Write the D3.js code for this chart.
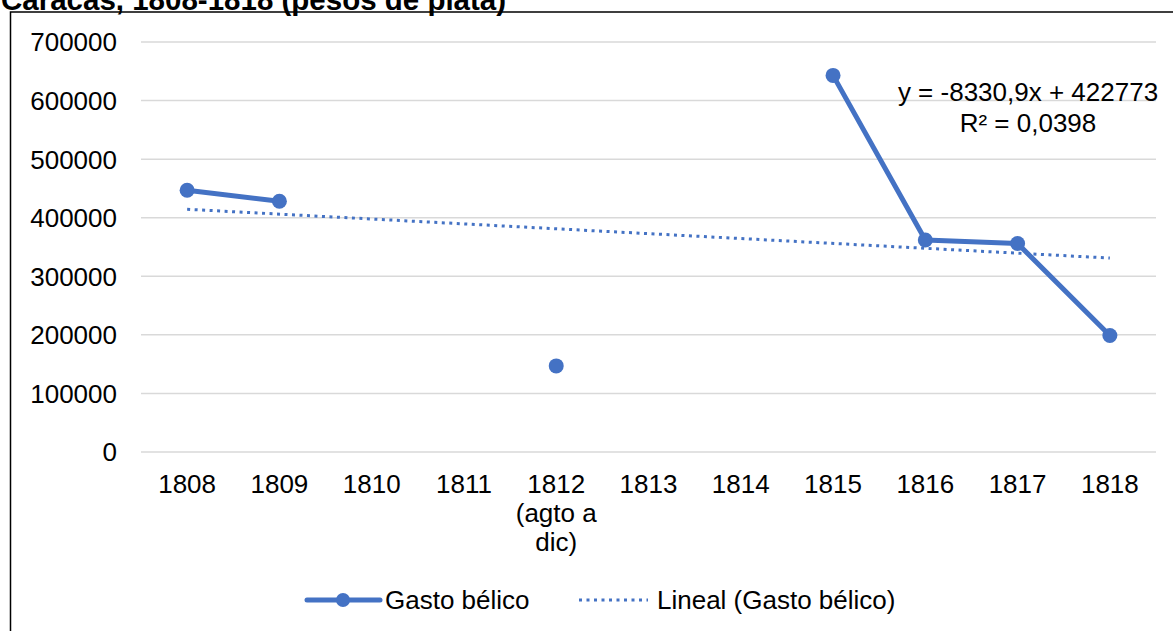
<!DOCTYPE html>
<html>
<head>
<meta charset="utf-8">
<script src="https://cdn.jsdelivr.net/npm/d3@7"></script>
<style>
  body { margin: 0; background: #fff; }
  svg { display: block; font-family: "Liberation Sans", Arial, sans-serif; }
</style>
</head>
<body>
<script>
// data
var years = ["1808", "1809", "1810", "1811", "1812 (agto a dic)", "1813", "1814", "1815", "1816", "1817", "1818"];
var yearLines = [["1808"], ["1809"], ["1810"], ["1811"], ["1812", "(agto a", "dic)"], ["1813"], ["1814"], ["1815"], ["1816"], ["1817"], ["1818"]];
var gasto = [447000, 428000, null, null, 147000, null, null, 643000, 362000, 356000, 199000];
var yTicks = [0, 100000, 200000, 300000, 400000, 500000, 600000, 700000];
var trendSlope = -8330.9, trendIntercept = 422773;
var eqLines = ["y = -8330,9x + 422773", "R\u00b2 = 0,0398"];

var W = 1173, H = 631;
var blue = "#4472C4";

var svg = d3.select("body").append("svg")
    .attr("width", W)
    .attr("height", H);

// chart border
svg.append("rect")
    .attr("x", 10.5).attr("y", 12)
    .attr("width", 1175).attr("height", 640)
    .attr("fill", "none")
    .attr("stroke", "#000")
    .attr("stroke-width", 1.5);

// title (top clipped in the original)
svg.append("text")
    .attr("x", 1).attr("y", 10)
    .style("font-size", "29.5px")
    .style("font-weight", "bold")
    .text("Caracas, 1808-1818 (pesos de plata)");

var x = d3.scalePoint()
    .domain(years)
    .range([141, 1156])
    .padding(0.5);

var y = d3.scaleLinear()
    .domain([0, 700000])
    .range([452, 42]);

// gridlines
svg.append("g")
    .selectAll("line")
    .data(yTicks)
    .enter().append("line")
    .attr("x1", 141).attr("x2", 1156)
    .attr("y1", function(d) { return y(d); })
    .attr("y2", function(d) { return y(d); })
    .attr("stroke", "#d9d9d9")
    .attr("stroke-width", 1.5);

// y labels
svg.append("g")
    .selectAll("text")
    .data(yTicks)
    .enter().append("text")
    .attr("x", 117)
    .attr("y", function(d) { return y(d); })
    .attr("dy", "0.36em")
    .attr("text-anchor", "end")
    .style("font-size", "26px")
    .text(function(d) { return d; });

// x labels
var xl = svg.append("g")
    .selectAll("text")
    .data(years)
    .enter().append("text")
    .attr("x", function(d) { return x(d); })
    .attr("y", 493)
    .attr("text-anchor", "middle")
    .style("font-size", "26px");
xl.each(function(d, i) {
    var t = d3.select(this);
    yearLines[i].forEach(function(s, j) {
        t.append("tspan")
            .attr("x", x(d))
            .attr("dy", j === 0 ? 0 : 29)
            .text(s);
    });
});

// trend line (x = 1..11)
var trendPts = [1, years.length].map(function(k) {
    return { year: years[k - 1], v: trendSlope * k + trendIntercept };
});
svg.append("path")
    .datum(trendPts)
    .attr("fill", "none")
    .attr("stroke", blue)
    .attr("stroke-width", 3)
    .attr("stroke-dasharray", "3,4.5")
    .attr("d", d3.line()
        .x(function(d) { return x(d.year); })
        .y(function(d) { return y(d.v); }));

// series line
var pts = years.map(function(yr, i) { return { year: yr, v: gasto[i] }; });
svg.append("path")
    .datum(pts)
    .attr("fill", "none")
    .attr("stroke", blue)
    .attr("stroke-width", 5)
    .attr("stroke-linejoin", "round")
    .attr("d", d3.line()
        .defined(function(d) { return d.v !== null; })
        .x(function(d) { return x(d.year); })
        .y(function(d) { return y(d.v); }));

svg.append("g")
    .selectAll("circle")
    .data(pts.filter(function(d) { return d.v !== null; }))
    .enter().append("circle")
    .attr("cx", function(d) { return x(d.year); })
    .attr("cy", function(d) { return y(d.v); })
    .attr("r", 7.5)
    .attr("fill", blue);

// regression equation
svg.append("g")
    .selectAll("text")
    .data(eqLines)
    .enter().append("text")
    .attr("x", 1028)
    .attr("y", function(d, i) { return 101 + i * 31; })
    .attr("text-anchor", "middle")
    .style("font-size", "26px")
    .text(function(d) { return d; });

// legend
var lg = svg.append("g");
lg.append("line")
    .attr("x1", 307).attr("x2", 380)
    .attr("y1", 600).attr("y2", 600)
    .attr("stroke", blue).attr("stroke-width", 5)
    .attr("stroke-linecap", "round");
lg.append("circle")
    .attr("cx", 343).attr("cy", 600).attr("r", 7)
    .attr("fill", blue);
lg.append("text")
    .attr("x", 385).attr("y", 609)
    .style("font-size", "26px")
    .text("Gasto bélico");
lg.append("line")
    .attr("x1", 579).attr("x2", 648)
    .attr("y1", 600).attr("y2", 600)
    .attr("stroke", blue).attr("stroke-width", 3)
    .attr("stroke-dasharray", "3,4.5");
lg.append("text")
    .attr("x", 657).attr("y", 609)
    .style("font-size", "26px")
    .text("Lineal (Gasto bélico)");
</script>
</body>
</html>
